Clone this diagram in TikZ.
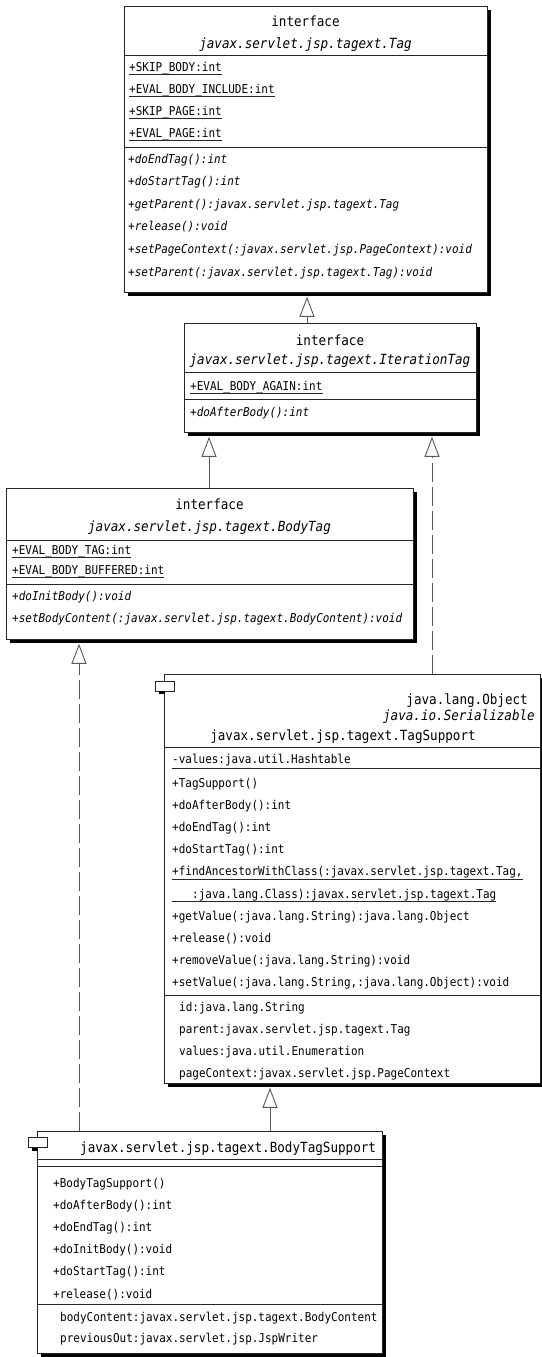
\documentclass[tikz,border=0pt]{standalone}
\usepackage{fontspec}
\usetikzlibrary{arrows.meta,shadows,calc}
\newfontfamily\umlmono[FakeStretch=0.9]{DejaVu Sans Mono}
\newcommand{\bodyfont}{\umlmono\fontsize{12.2}{14}\selectfont}
\newcommand{\headfont}{\umlmono\fontsize{14}{16}\selectfont}

\tikzset{
  umlbox/.style={draw=black!85, line width=0.8pt, fill=white, inner sep=0pt, anchor=north west,
    drop shadow={shadow xshift=4pt, shadow yshift=-4pt, fill=black, opacity=1}},
  rule/.style={draw=black!85, line width=0.8pt},
  member/.style={font=\bodyfont, inner sep=0pt, anchor=base west},
  opmember/.style={member, font=\bodyfont\itshape},
  head/.style={font=\headfont, inner sep=0pt, anchor=base},
  headit/.style={head, font=\headfont\itshape},
  gen/.style={draw=black!65, line width=0.9pt,
    -{Triangle[open, width=15pt, length=20pt, fill=white]}},
  realize/.style={gen, dash pattern=on 19pt off 5pt},
  compicon/.style={draw=black!85, line width=0.8pt, fill=white, inner sep=0pt,
    minimum width=19pt, minimum height=10pt},
}

\begin{document}
\begin{tikzpicture}[x=1pt, y=-1pt]
\useasboundingbox (0,0) rectangle (541,1357);

% ---------------- interface Tag ----------------
\node[umlbox, minimum width=363pt, minimum height=286pt] (tag) at (124,6) {};
\node[head] (tagkw) at (305.5,27) {interface};
\node[headit] (tagname) at (305.5,48) {javax.servlet.jsp.tagext.Tag};
\draw[rule] (124,55) -- (487,55);
\foreach \txt [count=\k] in {+SKIP\_BODY:int, +EVAL\_BODY\_INCLUDE:int, +SKIP\_PAGE:int, +EVAL\_PAGE:int} {
  \node[member] (tagattr\k) at ({129},{71+22*(\k-1)}) {\txt};
  \draw[rule] ($(tagattr\k.base west)+(0,3.5)$) -- ($(tagattr\k.base east)+(0,3.5)$);
}
\draw[rule] (124,147) -- (487,147);
\foreach \txt [count=\k] in {+doEndTag():int, +doStartTag():int, +getParent():javax.servlet.jsp.tagext.Tag,
  +release():void, +setPageContext(:javax.servlet.jsp.PageContext):void,
  +setParent(:javax.servlet.jsp.tagext.Tag):void} {
  \node[opmember] (tagop\k) at ({128},{163+22.6*(\k-1)}) {\txt};
}

% ---------------- interface IterationTag ----------------
\node[umlbox, minimum width=292pt, minimum height=109pt] (iter) at (184,323) {};
\node[head] (iterkw) at (330,345) {interface};
\node[headit] (itername) at (330,364) {javax.servlet.jsp.tagext.IterationTag};
\draw[rule] (184,372) -- (476,372);
\node[member] (iterattr) at (190,390) {+EVAL\_BODY\_AGAIN:int};
\draw[rule] ($(iterattr.base west)+(0,3.5)$) -- ($(iterattr.base east)+(0,3.5)$);
\draw[rule] (184,399) -- (476,399);
\node[opmember] (iterop) at (190,416) {+doAfterBody():int};

% ---------------- interface BodyTag ----------------
\node[umlbox, minimum width=407pt, minimum height=151pt] (btag) at (6,488) {};
\node[head] (btagkw) at (209.5,509) {interface};
\node[headit] (btagname) at (209.5,531) {javax.servlet.jsp.tagext.BodyTag};
\draw[rule] (6,540) -- (413,540);
\foreach \txt [count=\k] in {+EVAL\_BODY\_TAG:int, +EVAL\_BODY\_BUFFERED:int} {
  \node[member] (btagattr\k) at ({12},{554+20*(\k-1)}) {\txt};
  \draw[rule] ($(btagattr\k.base west)+(0,3.5)$) -- ($(btagattr\k.base east)+(0,3.5)$);
}
\draw[rule] (6,584) -- (413,584);
\node[opmember] (btagop1) at (12,600) {+doInitBody():void};
\node[opmember] (btagop2) at (12,622) {+setBodyContent(:javax.servlet.jsp.tagext.BodyContent):void};

% ---------------- class TagSupport ----------------
\node[umlbox, minimum width=376pt, minimum height=409pt] (tsup) at (164,674) {};
\node[compicon] (tsupicon) at (164.5,686) {};
\fill[black] ($(tsupicon.south)+(-5.5,0)$) rectangle ++(6,3);
\node[head, anchor=base east] (tsupsuper) at (528,704) {java.lang.Object};
\node[headit, anchor=base east] (tsupiface) at (535,720) {java.io.Serializable};
\node[head] (tsupname) at (343,740) {javax.servlet.jsp.tagext.TagSupport};
\draw[rule] (164,747) -- (540,747);
\node[member] (tsupattr) at (172,763) {-values:java.util.Hashtable};
\draw[rule] (172,768) -- (540,768);
\foreach \txt [count=\k] in {+TagSupport(), +doAfterBody():int, +doEndTag():int, +doStartTag():int} {
  \node[member] (tsupop\k) at ({172},{787+22.2*(\k-1)}) {\txt};
}
\node[member] (tsupfind) at (172,875.8) {+findAncestorWithClass(:javax.servlet.jsp.tagext.Tag,};
\draw[rule] ($(tsupfind.base west)+(0,3.5)$) -- ($(tsupfind.base east)+(0,3.5)$);
\node[member] (tsupfindb) at (192,898) {:java.lang.Class):javax.servlet.jsp.tagext.Tag};
\draw[rule] ($(tsupfindb.base west)+(-20,3.5)$) -- ($(tsupfindb.base east)+(0,3.5)$);
\foreach \txt [count=\k] in {+getValue(:java.lang.String):java.lang.Object, +release():void,
  +removeValue(:java.lang.String):void, {+setValue(:java.lang.String,:java.lang.Object):void}} {
  \node[member] (tsuprest\k) at ({172},{920.2+22.2*(\k-1)}) {\txt};
}
\draw[rule] (164,995) -- (540,995);
\foreach \txt [count=\k] in {id:java.lang.String, parent:javax.servlet.jsp.tagext.Tag,
  values:java.util.Enumeration, pageContext:javax.servlet.jsp.PageContext} {
  \node[member] (tsupprop\k) at ({179},{1011+22*(\k-1)}) {\txt};
}

% ---------------- class BodyTagSupport ----------------
\node[umlbox, minimum width=345pt, minimum height=222pt] (bts) at (37,1131) {};
\node[compicon] (btsicon) at (37.5,1142.5) {};
\fill[black] ($(btsicon.south)+(-5.5,0)$) rectangle ++(6,3);
\node[head, anchor=base west] (btsname) at (80,1152) {javax.servlet.jsp.tagext.BodyTagSupport};
\draw[rule] (37,1159) -- (382,1159);
\draw[rule] (37,1166) -- (382,1166);
\foreach \txt [count=\k] in {+BodyTagSupport(), +doAfterBody():int, +doEndTag():int,
  +doInitBody():void, +doStartTag():int, +release():void} {
  \node[member] (btsop\k) at ({53},{1187+22.2*(\k-1)}) {\txt};
}
\draw[rule] (37,1304) -- (382,1304);
\node[member] (btsprop1) at (60,1321) {bodyContent:javax.servlet.jsp.tagext.BodyContent};
\node[member] (btsprop2) at (60,1342) {previousOut:javax.servlet.jsp.JspWriter};

% ---------------- generalisation / realisation arrows ----------------
\coordinate (gx1) at (307,0);
\coordinate (gx2) at (209,0);
\coordinate (gx3) at (432,0);
\coordinate (gx4) at (270,0);
\coordinate (gx5) at (79,0);
\draw[gen] (iter.north -| gx1) -- ($(tag.south -| gx1)+(0,4)$);
\draw[gen] (btag.north -| gx2) -- ($(iter.south -| gx2)+(0,4)$);
\draw[realize] (tsup.north -| gx3) -- ($(iter.south -| gx3)+(0,4)$);
\draw[gen] (bts.north -| gx4) -- ($(tsup.south -| gx4)+(0,4)$);
\draw[realize] (bts.north -| gx5) -- ($(btag.south -| gx5)+(0,4)$);
\end{tikzpicture}
\end{document}
